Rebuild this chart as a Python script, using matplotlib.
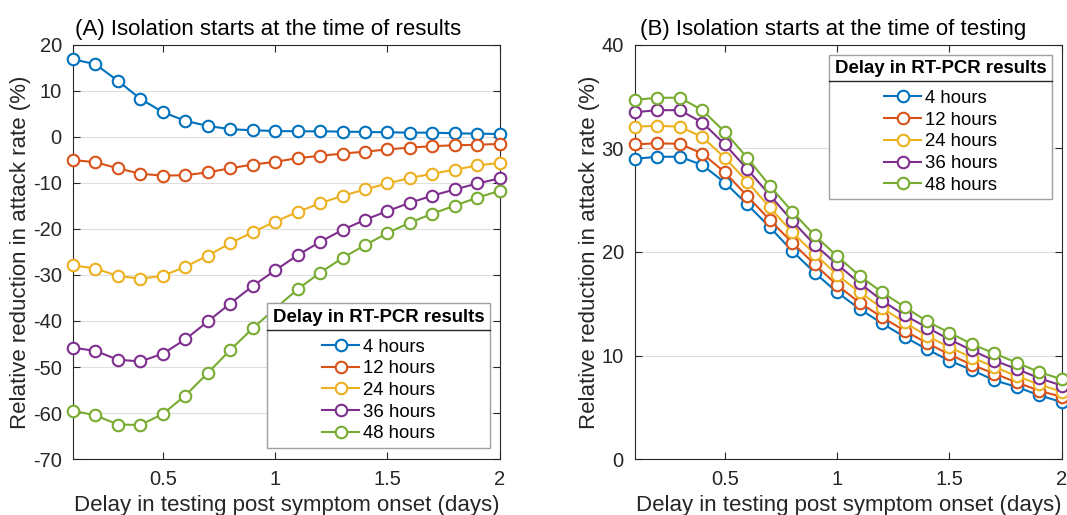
import numpy as np
import matplotlib.pyplot as plt
from matplotlib.lines import Line2D

plt.rcParams['font.family'] = ['Liberation Sans', 'DejaVu Sans']
plt.rcParams['axes.unicode_minus'] = False

delay_test = [0.1, 0.2, 0.3, 0.4, 0.5, 0.6, 0.7, 0.8, 0.9, 1.0,
              1.1, 1.2, 1.3, 1.4, 1.5, 1.6, 1.7, 1.8, 1.9, 2.0]
labels = ['4 hours', '12 hours', '24 hours', '36 hours', '48 hours']
colors = ['#0072BD', '#D95319', '#EDB120', '#7E2F8E', '#77AC30']

# panel A: isolation starts at the time of results
a_4h = [16.9, 15.8, 12.2, 8.3, 5.4, 3.5, 2.4, 1.7, 1.45, 1.3,
        1.23, 1.23, 1.16, 1.09, 1.01, 0.94, 0.94, 0.8, 0.72, 0.65]
a_12h = [-5.0, -5.5, -6.8, -8.0, -8.4, -8.3, -7.7, -6.8, -6.0, -5.4,
         -4.6, -4.1, -3.6, -3.2, -2.7, -2.3, -2.0, -1.8, -1.7, -1.5]
a_24h = [-27.9, -28.6, -30.2, -30.8, -30.2, -28.2, -25.8, -23.1, -20.7, -18.4,
         -16.3, -14.4, -12.8, -11.4, -10.1, -8.9, -8.0, -7.1, -6.2, -5.6]
a_36h = [-45.8, -46.5, -48.4, -48.8, -47.1, -44.0, -40.1, -36.2, -32.4, -29.0,
         -25.7, -22.8, -20.2, -18.0, -16.1, -14.3, -12.75, -11.4, -10.1, -9.0]
a_48h = [-59.5, -60.5, -62.5, -62.6, -60.2, -56.2, -51.3, -46.3, -41.6, -37.3,
         -33.1, -29.5, -26.3, -23.5, -20.9, -18.6, -16.7, -14.9, -13.2, -11.7]

# panel B: isolation starts at the time of testing
b_4h = [29.0, 29.2, 29.2, 28.4, 26.7, 24.6, 22.4, 20.1, 18.0, 16.1,
        14.5, 13.1, 11.8, 10.6, 9.5, 8.6, 7.6, 6.96, 6.15, 5.5]
b_12h = [30.4, 30.5, 30.45, 29.5, 27.7, 25.4, 23.1, 20.9, 18.8, 16.8,
         15.1, 13.7, 12.4, 11.2, 10.1, 9.1, 8.25, 7.4, 6.6, 6.0]
b_24h = [32.1, 32.2, 32.1, 31.1, 29.1, 26.8, 24.3, 21.9, 19.8, 17.8,
         16.1, 14.6, 13.2, 11.9, 10.8, 9.8, 8.9, 8.0, 7.2, 6.5]
b_36h = [33.5, 33.7, 33.7, 32.5, 30.4, 28.0, 25.5, 23.0, 20.7, 18.8,
         17.0, 15.3, 13.9, 12.7, 11.55, 10.5, 9.5, 8.7, 7.8, 7.1]
b_48h = [34.7, 34.9, 34.9, 33.7, 31.6, 29.1, 26.4, 23.9, 21.6, 19.6,
         17.7, 16.1, 14.7, 13.3, 12.2, 11.1, 10.2, 9.3, 8.4, 7.7]

fig = plt.figure(figsize=(10.67, 5.15), dpi=100)
axA = fig.add_axes([0.0684, 0.1087, 0.400, 0.804])
axB = fig.add_axes([0.5951, 0.1087, 0.400, 0.804])

dark = '#262626'


def style(ax, ylim, yticks):
    ax.set_xlim(0.1, 2)
    ax.set_ylim(*ylim)
    ax.set_xticks([0.5, 1, 1.5, 2])
    ax.set_xticklabels(['0.5', '1', '1.5', '2'])
    ax.set_yticks(yticks)
    ax.tick_params(direction='in', length=5, width=0.8, top=True, right=True,
                   labelsize=14.5, colors=dark, pad=8)
    ax.yaxis.grid(True, color='#dfdfdf', lw=0.8)
    ax.set_axisbelow(True)
    for s in ax.spines.values():
        s.set_color(dark)
        s.set_linewidth(0.8)
    ax.set_xlabel('Delay in testing post symptom onset (days)', fontsize=16,
                  color=dark, labelpad=4)
    ax.set_ylabel('Relative reduction in attack rate (%)', fontsize=16,
                  color=dark, labelpad=1)


def draw(ax, series):
    for ys, c, lab in zip(series, colors, labels):
        ax.plot(delay_test, ys, '-o', color=c, lw=1.5, ms=8.3, mew=1.5,
                mfc='white', mec=c, label=lab, clip_on=False, zorder=3)


draw(axA, [a_4h, a_12h, a_24h, a_36h, a_48h])
draw(axB, [b_4h, b_12h, b_24h, b_36h, b_48h])
style(axA, (-70, 20), np.arange(-70, 21, 10))
style(axB, (0, 40), np.arange(0, 41, 10))

axA.set_title('(A) Isolation starts at the time of results', loc='left',
              fontsize=16, color='black', pad=7, x=0.005)
axB.set_title('(B) Isolation starts at the time of testing', loc='left',
              fontsize=16, color='black', pad=7, x=0.012)

leg_kw = dict(title='Delay in RT-PCR results', fontsize=13.4,
              title_fontproperties={'weight': 'bold', 'size': 13.4},
              frameon=True, fancybox=False, edgecolor='#a0a0a0',
              framealpha=1, borderaxespad=0, handlelength=2.0,
              handletextpad=0.2, labelspacing=0.25, borderpad=0.3)
legA = axA.legend(loc='lower right', bbox_to_anchor=(0.977, 0.027), **leg_kw)
legB = axB.legend(loc='upper right', bbox_to_anchor=(0.977, 0.976), **leg_kw)
for leg in (legA, legB):
    leg.get_frame().set_linewidth(1.0)
    leg.get_title().set_color('black')
    leg._legend_box.sep = 9
    for t in leg.get_texts():
        t.set_color('black')

fig.canvas.draw()
W, H = fig.canvas.get_width_height()
for leg in (legA, legB):
    fb = leg.get_frame().get_window_extent()
    tb = leg.get_title().get_window_extent()
    y = tb.y0 - 4
    fig.add_artist(Line2D([fb.x0 / W, fb.x1 / W], [y / H, y / H],
                          transform=fig.transFigure, color=dark, lw=1.0,
                          zorder=10))

fig.savefig('out.png', dpi=100)
